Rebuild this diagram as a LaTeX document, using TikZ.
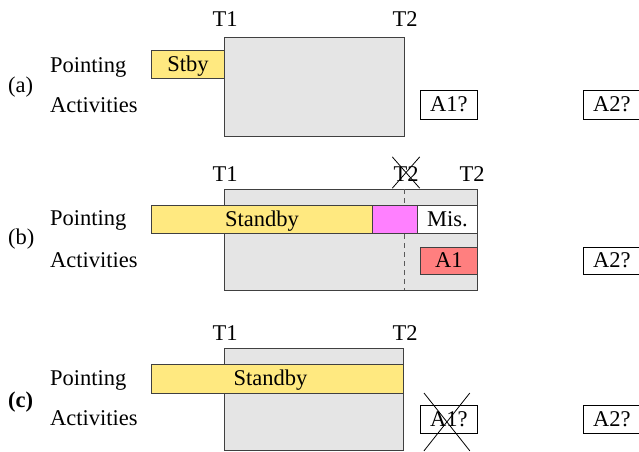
\documentclass[tikz,border=0pt]{standalone}
\usepackage{fontspec}
\setmainfont{Liberation Serif}
\usetikzlibrary{calc}
\definecolor{stbyyellow}{HTML}{FFE980}
\definecolor{windowgray}{HTML}{E5E5E5}
\definecolor{slewmagenta}{HTML}{FF80FF}
\definecolor{actred}{HTML}{FF7F7F}
\begin{document}
\begin{tikzpicture}[x=1pt,y=-1pt,
  font=\fontsize{22.5}{27}\selectfont,
  lbl/.style={anchor=base west, inner sep=0pt},
  tlbl/.style={anchor=base, inner sep=0pt},
  bar/.style={draw=black!75, line width=0.8pt, anchor=north west, inner sep=0pt,
              text height=16pt, text depth=2pt},
  win/.style={bar, fill=windowgray},
  stbybar/.style={bar, fill=stbyyellow},
  actbox/.style={bar, draw=black, fill=white, minimum width=57pt},
  cross/.style={line width=0.8pt}]
\useasboundingbox (0,0) rectangle (639,451);

% ---------- (a) ----------
\node[win, minimum width=180pt, minimum height=99pt] (wa) at (224,37) {};
\node[stbybar, minimum width=73pt, minimum height=28pt] (sa) at (151,50) {Stby};
\node[tlbl] (t1a) at (225,26) {T1};
\node[tlbl] (t2a) at (405,26) {T2};
\node[lbl] (pa) at (50,72) {Pointing};
\node[lbl] (aa) at (50,112) {Activities};
\node[lbl] (la) at (8,92) {(a)};
\node[actbox, minimum height=29pt] (a1a) at (420,90) {A1?};
\node[actbox, minimum height=29pt] (a2a) at (583,90) {A2?};

% ---------- (b) ----------
\node[win, minimum width=253pt, minimum height=101pt] (wb) at (224,189) {};
\coordinate (cuttop) at (404,189);
\coordinate (cutbot) at (404,290);
\draw[black!65, line width=0.8pt, dash pattern=on 5pt off 4pt] (cuttop) -- (cutbot);
\node[stbybar, minimum width=221pt, minimum height=28pt] (sb) at (151,205) {Standby};
\node[bar, fill=slewmagenta, minimum width=45pt, minimum height=28pt] (mb) at (372,205) {};
\node[bar, fill=white, minimum width=60pt, minimum height=28pt] (misb) at (417,205) {Mis.};
\node[bar, fill=actred, minimum width=57pt, minimum height=27pt] (a1b) at (420,247) {A1};
\node[actbox, minimum height=27pt] (a2b) at (583,247) {A2?};
\node[tlbl] (t1b) at (225,181) {T1};
\node[tlbl] (t2old) at (406,181) {T2};
\node[tlbl] (t2b) at (472,181) {T2};
\draw[cross] ($(t2old.north west)+(-1,-9)$) -- ($(t2old.south east)+(1,7)$);
\draw[cross] ($(t2old.north east)+(1,-9)$) -- ($(t2old.south west)+(-1,7)$);
\node[lbl] (pb) at (50,225) {Pointing};
\node[lbl] (ab) at (50,267) {Activities};
\node[lbl] (lb) at (8,244) {(b)};

% ---------- (c) ----------
\node[win, minimum width=179pt, minimum height=102pt] (wc) at (224,348) {};
\node[stbybar, minimum width=252pt, minimum height=29pt, text width=238pt, align=center] (sc) at (151,364) {\hspace*{-14pt}Standby};
\node[tlbl] (t1c) at (225,340) {T1};
\node[tlbl] (t2c) at (405,340) {T2};
\node[lbl] (pc) at (50,385) {Pointing};
\node[lbl] (ac) at (50,425) {Activities};
\node[lbl, font=\fontsize{22.5}{27}\selectfont\bfseries] (lc) at (8,407) {(c)};
\node[actbox, minimum height=28pt] (a1c) at (420,405) {A1?};
\node[actbox, minimum height=28pt] (a2c) at (583,405) {A2?};
\draw[cross] ($(a1c.north west)+(4,-12)$) -- ($(a1c.south east)+(-8,17)$);
\draw[cross] ($(a1c.north east)+(-8,-12)$) -- ($(a1c.south west)+(4,17)$);
\end{tikzpicture}
\end{document}
